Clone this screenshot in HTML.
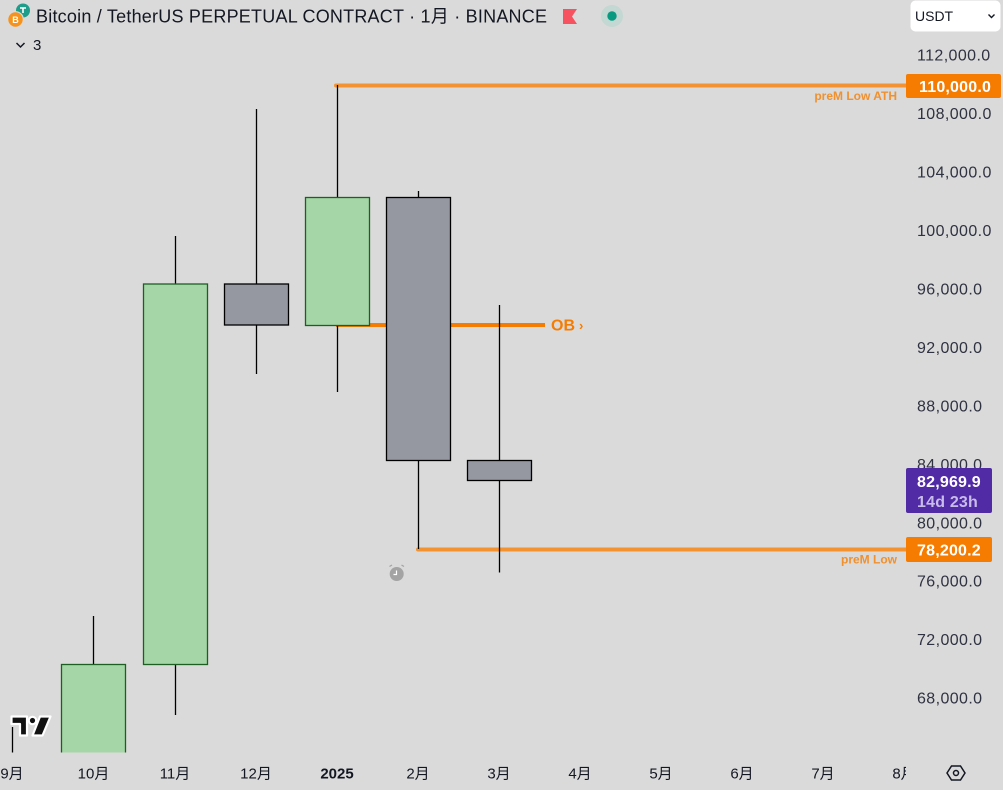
<!DOCTYPE html>
<html><head><meta charset="utf-8"><style>
html,body{margin:0;padding:0;background:#dadada;}
body{width:1003px;height:790px;overflow:hidden;}
svg{display:block;font-family:"Liberation Sans","Noto Sans CJK SC",sans-serif;}
</style></head><body>
<svg width="1003" height="790" viewBox="0 0 1003 790" xmlns="http://www.w3.org/2000/svg">
<defs>
<clipPath id="cp"><rect x="0" y="0" width="906" height="752.5"/></clipPath>
<clipPath id="cx"><rect x="0" y="752" width="906" height="38"/></clipPath>
</defs>
<rect x="0" y="0" width="1003" height="790" fill="#dadada"/>

<!-- header -->
<circle cx="23" cy="10.5" r="7" fill="#1f9d8b"/>
<path d="M20 8 h6 M23 8 v5" stroke="#fff" stroke-width="1.6" fill="none"/>
<circle cx="15.5" cy="19.5" r="7.8" fill="#f7931a" stroke="#dadada" stroke-width="1.2"/>
<text x="15.5" y="23" font-size="9" font-weight="bold" fill="#fff" text-anchor="middle">B</text>
<text x="36" y="22.5" font-size="18" fill="#131722" textLength="511" lengthAdjust="spacing">Bitcoin / TetherUS PERPETUAL CONTRACT · 1月 · BINANCE</text>
<polygon points="563,9 577,9 572,16.5 577,24 563,24" fill="#f7525f"/>
<circle cx="612" cy="16" r="11" fill="#c3d8d2"/>
<circle cx="612" cy="16" r="4.7" fill="#089981"/>
<polyline points="16.5,43 20.5,47 24.5,43" stroke="#131722" stroke-width="1.5" fill="none"/>
<text x="33" y="49.8" font-size="15" fill="#131722">3</text>

<!-- USDT -->
<rect x="910.5" y="0.5" width="90" height="31" rx="5" fill="#ffffff"/>
<text x="915" y="21" font-size="14" fill="#131722">USDT</text>
<polyline points="988.5,14.5 991.5,17.5 994.5,14.5" stroke="#131722" stroke-width="1.4" fill="none"/>

<!-- chart -->
<g clip-path="url(#cp)">
<line x1="336" y1="85.5" x2="906" y2="85.5" stroke="#f39232" stroke-width="4" stroke-linecap="round"/>
<line x1="336" y1="325" x2="545" y2="325" stroke="#f57c00" stroke-width="4"/>
<line x1="418" y1="549.5" x2="906" y2="549.5" stroke="#f29231" stroke-width="4" stroke-linecap="round"/>

<g stroke="#000" stroke-width="1.3">
<line x1="12.5" y1="727" x2="12.5" y2="753"/>
<line x1="93.5" y1="616" x2="93.5" y2="664"/>
<line x1="175.5" y1="236" x2="175.5" y2="715"/>
<line x1="256.5" y1="109" x2="256.5" y2="374"/>
<line x1="337.5" y1="85" x2="337.5" y2="392"/>
<line x1="418.5" y1="191" x2="418.5" y2="549"/>
<line x1="499.5" y1="305" x2="499.5" y2="572.5"/>
</g>
<g fill="#a5d6a7" stroke="#1d5e22" stroke-width="1.3">
<rect x="61.5" y="664.5" width="64" height="100"/>
<rect x="143.5" y="284" width="64" height="380.5"/>
<rect x="305.5" y="197.5" width="64" height="128"/>
</g>
<g fill="#9598a1" stroke="#000" stroke-width="1.3">
<rect x="224.5" y="284" width="64" height="41"/>
<rect x="386.5" y="197.5" width="64" height="263"/>
<rect x="467.5" y="460.5" width="64" height="20"/>
</g>
</g>

<text x="551" y="330.5" font-size="16" font-weight="bold" fill="#f57c00">OB</text>
<text x="579" y="330" font-size="13" font-weight="bold" fill="#f57c00">›</text>

<!-- alarm -->
<g fill="#a3a3a3">
<circle cx="396.7" cy="574" r="7"/>
<path d="M389.5 566.5 l2.5 -1.5 M401.5 565 l2.5 1.5" stroke="#a3a3a3" stroke-width="1.3"/>
</g>
<path d="M396.5 570.5 v4 h-3" stroke="#fff" stroke-width="1.2" fill="none"/>

<!-- TV logo -->
<g stroke="#fff" stroke-width="2.2" stroke-linejoin="round" fill="#111">
<polygon points="11.5,716.5 27,716.5 27,735.5 20,735.5 20,724 11.5,724"/>
<circle cx="32.5" cy="720.5" r="3.7"/>
<polygon points="40,716.5 50.5,716.5 42.5,735.5 32.5,735.5"/>
</g>

<!-- price axis -->
<g font-size="16" fill="#2f3241" letter-spacing="0.4">
<text x="917" y="60.7">112,000.0</text>
<text x="917" y="119.1">108,000.0</text>
<text x="917" y="177.6">104,000.0</text>
<text x="917" y="236.1">100,000.0</text>
<text x="917" y="294.5">96,000.0</text>
<text x="917" y="353">92,000.0</text>
<text x="917" y="411.4">88,000.0</text>
<text x="917" y="469.8">84,000.0</text>
<text x="917" y="528.3">80,000.0</text>
<text x="917" y="586.7">76,000.0</text>
<text x="917" y="645.2">72,000.0</text>
<text x="917" y="703.7">68,000.0</text>
</g>

<rect x="906" y="74" width="95" height="24" rx="2" fill="#f57c00"/>
<text x="919" y="91.8" font-size="16" font-weight="bold" fill="#fff" letter-spacing="0.2">110,000.0</text>
<text x="897" y="100.2" font-size="12" font-weight="bold" fill="#f0902e" text-anchor="end">preM Low ATH</text>

<rect x="906" y="468" width="86" height="45" rx="2" fill="#512ba6"/>
<text x="917" y="486.8" font-size="16" font-weight="bold" fill="#fff" letter-spacing="0.2">82,969.9</text>
<text x="917" y="506.8" font-size="16" font-weight="bold" fill="#c8bce9" letter-spacing="0.2">14d 23h</text>

<rect x="906" y="537" width="86" height="25" rx="2" fill="#f57c00"/>
<text x="917" y="555.3" font-size="16" font-weight="bold" fill="#fff" letter-spacing="0.2">78,200.2</text>
<text x="897" y="563.7" font-size="12" font-weight="bold" fill="#f0902e" text-anchor="end">preM Low</text>

<!-- time axis -->
<g clip-path="url(#cx)" font-size="15" fill="#131722" text-anchor="middle">
<text x="12" y="778.3">9月</text>
<text x="93.5" y="778.3">10月</text>
<text x="175" y="778.3">11月</text>
<text x="256" y="778.3">12月</text>
<text x="337" y="778.3" font-weight="bold">2025</text>
<text x="418" y="778.3">2月</text>
<text x="499" y="778.3">3月</text>
<text x="580" y="778.3">4月</text>
<text x="661" y="778.3">5月</text>
<text x="742" y="778.3">6月</text>
<text x="823" y="778.3">7月</text>
<text x="904" y="778.3">8月</text>
</g>
<polygon points="947,773 951.5,766 960.5,766 965,773 960.5,780 951.5,780" stroke="#131722" stroke-width="1.5" fill="none"/>
<circle cx="956" cy="773" r="2.5" stroke="#131722" stroke-width="1.5" fill="none"/>
</svg>
</body></html>
